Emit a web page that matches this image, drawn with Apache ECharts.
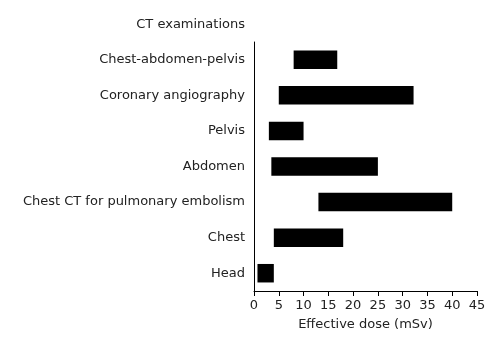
<!DOCTYPE html>
<html><head><meta charset="utf-8">
<script src="https://cdn.jsdelivr.net/npm/echarts@6/dist/echarts.min.js"></script>
<style>html,body{margin:0;padding:0;background:#fff}#c{width:500px;height:344px}</style>
</head><body><div id="c"></div>
<script>
const categories = ['Chest-abdomen-pelvis','Coronary angiography','Pelvis','Abdomen','Chest CT for pulmonary embolism','Chest','Head'];
const doseMin = [8, 5, 3, 3.5, 13, 4, 0.7];
const doseMax = [16.8, 32.2, 10, 25, 40, 18, 4];
const xTicks = [0,5,10,15,20,25,30,35,40,45];

const FONT = 'DejaVu Sans';
const chart = echarts.init(document.getElementById('c'));
chart.setOption({
  animation: false,
  textStyle: {fontFamily: FONT},
  grid: {left: 254, right: 23, top: 42, bottom: 53},
  graphic: [{type:'text', right: 255, top: 18, style:{text:'CT examinations', font:'13px ' + FONT, fill:'#222', textAlign:'right'}}],
  xAxis: {type:'value', min: xTicks[0], max: xTicks[xTicks.length-1], interval: 5,
    name: 'Effective dose (mSv)', nameLocation:'middle', nameGap: 27,
    nameTextStyle:{fontSize:13, color:'#222', fontFamily: FONT},
    axisLine:{show:true, lineStyle:{color:'#000', width:1}},
    axisTick:{show:true, length:5, lineStyle:{color:'#000'}},
    axisLabel:{fontSize:13, color:'#222', margin:8, fontFamily: FONT},
    splitLine:{show:false}},
  yAxis: {type:'category', data: categories, inverse: true,
    axisLine:{show:true, lineStyle:{color:'#000', width:1}},
    axisTick:{show:false},
    axisLabel:{fontSize:13, color:'#222', margin:9, fontFamily: FONT}},
  series: [
    {type:'bar', stack:'r', data: doseMin, itemStyle:{color:'transparent'}, barWidth:'52%', silent:true},
    {type:'bar', stack:'r', data: doseMax.map((v,i)=>v-doseMin[i]), itemStyle:{color:'#000'}, barWidth:'52%'}
  ]
});
</script></body></html>
